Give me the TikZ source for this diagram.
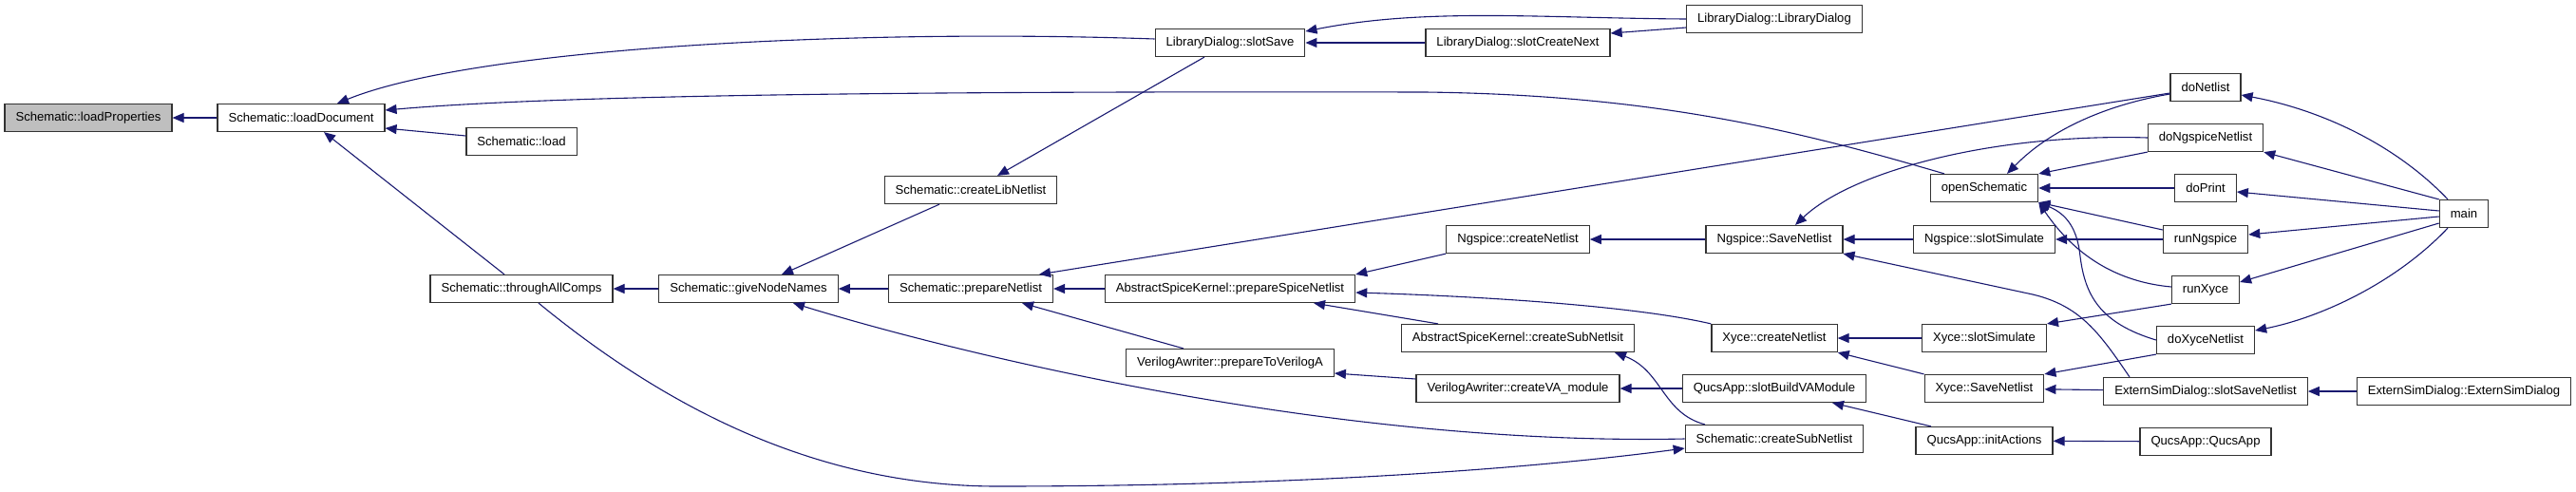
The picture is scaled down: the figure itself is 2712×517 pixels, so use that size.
\documentclass[tikz,border=0pt]{standalone}
\usepackage{fontspec}
\setmainfont{Liberation Sans}
\usetikzlibrary{arrows.meta}
\definecolor{edgeblue}{RGB}{25,25,112}
\definecolor{boxgray}{RGB}{191,191,191}
\begin{document}
\begin{tikzpicture}
  [x=1pt,y=-1pt,
   every node/.style={rectangle,draw=black!80,line width=1.2pt,fill=white,minimum height=29pt,inner xsep=11.5pt,inner ysep=0pt,font=\fontsize{13.1}{15}\selectfont},
   call/.style={draw=edgeblue,line width=1.1pt,-{Triangle[length=12pt,width=10pt]}}]
  \useasboundingbox (0,0) rectangle (2712,517);

  \node[fill=boxgray] (lprop) at (93,124) {Schematic::loadProperties};
  \node (ldoc)      at (317,124)  {Schematic::loadDocument};
  \node (load)      at (549,149)  {Schematic::load};
  \node (thru)      at (549,304)  {Schematic::throughAllComps};
  \node (give)      at (788,304)  {Schematic::giveNodeNames};
  \node (libnet)    at (1022,200) {Schematic::createLibNetlist};
  \node (prep)      at (1022,304) {Schematic::prepareNetlist};
  \node (save)      at (1295,45)  {LibraryDialog::slotSave};
  \node (prepspice) at (1295,304) {AbstractSpiceKernel::prepareSpiceNetlist};
  \node (toVA)      at (1295,382) {VerilogAwriter::prepareToVerilogA};
  \node (next)      at (1598,45)  {LibraryDialog::slotCreateNext};
  \node (ngcreate)  at (1598,252) {Ngspice::createNetlist};
  \node (subsit)    at (1598,356) {AbstractSpiceKernel::createSubNetlsit};
  \node (vamod)     at (1598,409) {VerilogAwriter::createVA\_module};
  \node (libdlg)    at (1868,20)  {LibraryDialog::LibraryDialog};
  \node (ngsave)    at (1868,252) {Ngspice::SaveNetlist};
  \node (xycreate)  at (1868,356) {Xyce::createNetlist};
  \node (buildva)   at (1868,409) {QucsApp::slotBuildVAModule};
  \node (subnet)    at (1868,462) {Schematic::createSubNetlist};
  \node (openS)     at (2089,198) {openSchematic};
  \node (ngsim)     at (2089,252) {Ngspice::slotSimulate};
  \node (xysim)     at (2089,356) {Xyce::slotSimulate};
  \node (xysave)    at (2089,409) {Xyce::SaveNetlist};
  \node (initact)   at (2089,464) {QucsApp::initActions};
  \node (donet)     at (2322,92)  {doNetlist};
  \node (dong)      at (2322,145) {doNgspiceNetlist};
  \node (doprint)   at (2322,198) {doPrint};
  \node (runng)     at (2322,252) {runNgspice};
  \node (runxy)     at (2322,305) {runXyce};
  \node (doxy)      at (2322,358) {doXyceNetlist};
  \node (extsave)   at (2322,412) {ExternSimDialog::slotSaveNetlist};
  \node (qucsapp)   at (2322,465) {QucsApp::QucsApp};
  \node (main)      at (2594,225) {main};
  \node (extdlg)    at (2594,412) {ExternSimDialog::ExternSimDialog};

  \foreach \src/\dst in {ldoc/lprop, give/thru, prep/give, prepspice/prep, next/save,
      ngcreate.south west/prepspice.north east, ngsave/ngcreate, buildva/vamod,
      ngsim/ngsave, xysim/xycreate, xysave.north west/xycreate.south east,
      dong.south west/openS.north east, doprint/openS, runng/ngsim,
      runxy.south west/xysim.north east, doxy.south west/xysave.north east,
      extsave/xysave, qucsapp/initact, main.north west/dong.south east, extdlg/extsave}
    \draw[call] (\src) -- (\dst);

  \draw[call] ([yshift=6pt]load.west) -- ([yshift=-11pt]ldoc.east);
  \draw[call] ([xshift=-18pt]thru.north) -- ([xshift=24pt]ldoc.south);
  \draw[call] ([xshift=-33pt]libnet.south) -- ([xshift=35pt]give.north);
  \draw[call] ([xshift=-27pt]save.south) -- ([xshift=28pt]libnet.north);
  \draw[call] ([yshift=-6pt]donet.west) -- ([xshift=72pt]prep.north);
  \draw[call] ([xshift=-49pt]toVA.north) -- ([xshift=54pt]prep.south);
  \draw[call] ([yshift=-9pt]libdlg.west) -- ([yshift=10pt]next.east);
  \draw[call] ([xshift=-84pt]subsit.north) -- ([xshift=88pt]prepspice.south);
  \draw[call] ([yshift=10pt]vamod.west) -- ([yshift=-11pt]toVA.east);
  \draw[call] ([xshift=-56pt]initact.north) -- ([xshift=61pt]buildva.south);
  \draw[call] ([yshift=10pt]runng.west) -- (openS.south east);
  \draw[call] ([yshift=3pt]main.west) -- ([yshift=-4pt]doprint.east);
  \draw[call] ([yshift=-3pt]main.west) -- ([yshift=5pt]runng.east);
  \draw[call] ([yshift=-10pt]main.west) -- ([yshift=8pt]runxy.east);

  \draw[call] ([yshift=4pt]save.west) .. controls (900,30) and (500,50) .. ([xshift=38pt]ldoc.north);
  \draw[call] ([xshift=-42pt]openS.north) .. controls (1900,140) and (1750,100) .. (1500,97)
    .. controls (1000,96) and (600,99) .. ([yshift=8pt]ldoc.east);
  \draw[call] ([xshift=18pt]thru.south) .. controls (690,420) and (850,512) .. (1050,512)
    .. controls (1350,512) and (1600,495) .. ([yshift=-10pt]subnet.west);
  \draw[call] (subnet.west) .. controls (1400,470) and (1000,370) .. ([xshift=47pt]give.south);
  \draw[call] (libdlg.west) .. controls (1620,19) and (1500,8) .. ([yshift=12pt]save.east);
  \draw[call] (xycreate.north west) .. controls (1720,322) and (1560,312) .. ([yshift=-4pt]prepspice.east);
  \draw[call] ([xshift=-73pt]subnet.north) .. controls (1750,435) and (1750,390) .. ([xshift=102pt]subsit.south);
  \draw[call] (dong.west) .. controls (2100,140) and (1950,180) .. ([xshift=22pt]ngsave.north);
  \draw[call] ([xshift=-80pt]extsave.north) .. controls (2210,350) and (2190,322) .. (2140,310) -- (ngsave.south east);
  \draw[call] ([yshift=-7pt]donet.west) .. controls (2220,110) and (2160,135) .. ([xshift=24pt]openS.north);
  \draw[call] ([yshift=3pt]runxy.west) .. controls (2230,297) and (2185,270) .. (openS.south east);
  \draw[call] (doxy.west) .. controls (2210,340) and (2195,310) .. (2190,270)
    .. controls (2187,240) and (2175,225) .. (openS.south east);
  \draw[call] ([xshift=-17pt]main.north) .. controls (2520,150) and (2440,115) .. ([yshift=-8pt]donet.east);
  \draw[call] ([xshift=-17pt]main.south) .. controls (2520,300) and (2440,335) .. ([yshift=10pt]doxy.east);

\end{tikzpicture}
\end{document}
